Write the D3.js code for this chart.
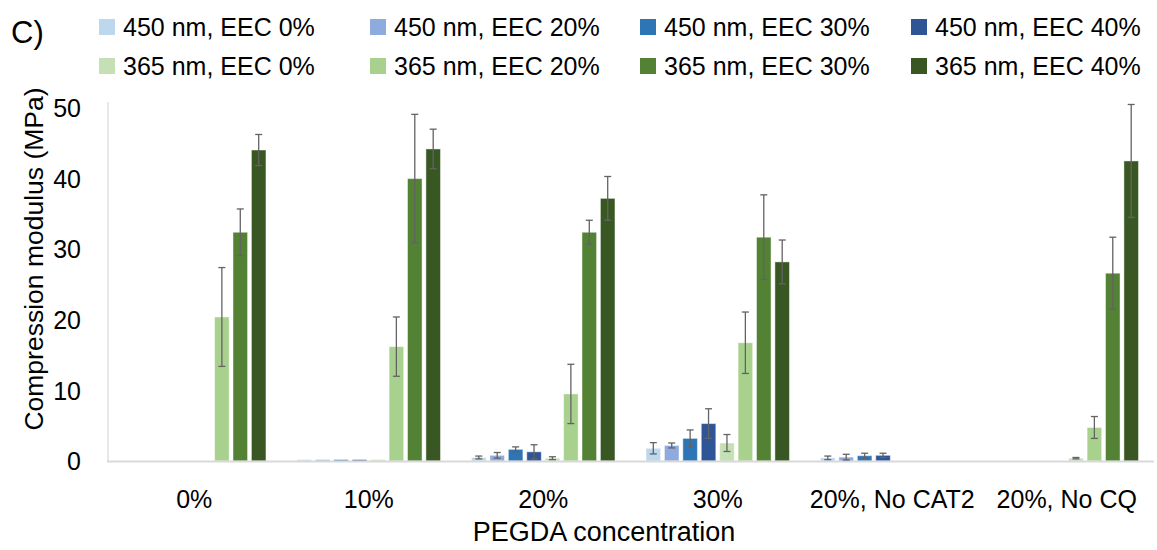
<!DOCTYPE html>
<html>
<head>
<meta charset="utf-8">
<script src="https://cdn.jsdelivr.net/npm/d3@7"></script>
<style>
  html, body { margin: 0; padding: 0; background: #fff; }
  svg { display: block; }
  text { font-family: "Liberation Sans", Arial, sans-serif; fill: #000; }
</style>
</head>
<body>
<svg id="chart" width="1157" height="550"></svg>
<script>
const categories = ["0%", "10%", "20%", "30%", "20%, No CAT2", "20%, No CQ"];
const seriesNames = ["450 nm, EEC 0%", "450 nm, EEC 20%", "450 nm, EEC 30%", "450 nm, EEC 40%",
                     "365 nm, EEC 0%", "365 nm, EEC 20%", "365 nm, EEC 30%", "365 nm, EEC 40%"];
const seriesColors = ["#BDD7EE", "#8FAADC", "#2E75B6", "#2F5597",
                      "#C5E0B4", "#A9D18E", "#548235", "#385723"];

const v450_0  = [0, 0.2, 0.5, 1.8, 0.45, 0];
const v450_20 = [0, 0.2, 0.8, 2.2, 0.55, 0];
const v450_30 = [0, 0.2, 1.65, 3.2, 0.75, 0];
const v450_40 = [0, 0.2, 1.3, 5.3, 0.8, 0];
const v365_0  = [0, 0.2, 0.4, 2.55, 0, 0.4];
const v365_20 = [20.4, 16.2, 9.5, 16.75, 0, 4.75];
const v365_30 = [32.4, 40.0, 32.4, 31.7, 0, 26.6];
const v365_40 = [44.05, 44.2, 37.2, 28.2, 0, 42.5];

const e450_0  = [0, 0, 0.2, 0.8, 0.25, 0];
const e450_20 = [0, 0, 0.4, 0.35, 0.4, 0];
const e450_30 = [0, 0, 0.35, 1.2, 0.35, 0];
const e450_40 = [0, 0, 1.0, 2.1, 0.3, 0];
const e365_0  = [0, 0, 0.2, 1.2, 0, 0.1];
const e365_20 = [7.0, 4.2, 4.2, 4.35, 0, 1.55];
const e365_30 = [3.3, 9.1, 1.7, 6.0, 0, 5.1];
const e365_40 = [2.2, 2.8, 3.1, 3.1, 0, 8.0];

const yTicks = [0, 10, 20, 30, 40, 50];

const values = [v450_0, v450_20, v450_30, v450_40, v365_0, v365_20, v365_30, v365_40];
const errors = [e450_0, e450_20, e450_30, e450_40, e365_0, e365_20, e365_30, e365_40];

const svg = d3.select("#chart");
const plotL = 107, plotR = 1154, plotT = 108, plotB = 461;

const x0 = d3.scaleBand().domain(categories).range([plotL, plotR]).padding(0);
const bw = x0.bandwidth();
const x1 = d3.scaleBand().domain(d3.range(seriesNames.length))
  .range([bw * 0.089, bw * 0.911]).paddingInner(0.21);
const y = d3.scaleLinear().domain([0, 50]).range([plotB, plotT]);

const FONT = "'Liberation Sans', Arial, sans-serif";

// y axis
const yAxis = d3.axisLeft(y).tickValues(yTicks).tickSize(0).tickPadding(0);
const gy = svg.append("g").attr("transform", `translate(81,0)`).call(yAxis);
gy.select(".domain").remove();
gy.selectAll("text").style("font-size", "25px").style("font-family", FONT)
  .attr("dy", "0.35em").attr("text-anchor", "end");

// vertical axis line
svg.append("line").attr("x1", plotL + 1).attr("x2", plotL + 1)
  .attr("y1", y(50) - 6).attr("y2", plotB).attr("stroke", "#d9d9d9").attr("stroke-width", 1.2);

// bars
const data = [];
categories.forEach((c, ci) => {
  seriesNames.forEach((s, si) => {
    data.push({ c, si, v: values[si][ci], e: errors[si][ci] });
  });
});

svg.append("g").selectAll("rect").data(data.filter(d => d.v > 0)).join("rect")
  .attr("x", d => x0(d.c) + x1(d.si))
  .attr("width", x1.bandwidth())
  .attr("y", d => y(d.v))
  .attr("height", d => y(0) - y(d.v))
  .attr("fill", d => seriesColors[d.si])
  .attr("stroke", "rgba(255,255,255,0.45)")
  .attr("stroke-width", 1);

// baseline
svg.append("line").attr("x1", plotL).attr("x2", plotR)
  .attr("y1", plotB + 0.5).attr("y2", plotB + 0.5)
  .attr("stroke", "#d9d9d9").attr("stroke-width", 2);

// error bars
const eb = svg.append("g").attr("stroke", "#636363").attr("stroke-width", 1.3).attr("fill", "none");
data.filter(d => d.e > 0).forEach(d => {
  const cx = x0(d.c) + x1(d.si) + x1.bandwidth() / 2;
  const yt = y(d.v + d.e), yb = y(Math.max(0, d.v - d.e));
  eb.append("line").attr("x1", cx).attr("x2", cx).attr("y1", yt).attr("y2", yb);
  eb.append("line").attr("x1", cx - 3.5).attr("x2", cx + 3.5).attr("y1", yt).attr("y2", yt);
  eb.append("line").attr("x1", cx - 3.5).attr("x2", cx + 3.5).attr("y1", yb).attr("y2", yb);
});

// x axis labels
const xAxis = d3.axisBottom(x0).tickSize(0).tickPadding(0);
const gx = svg.append("g").attr("transform", `translate(0,${plotB})`).call(xAxis);
gx.select(".domain").remove();
gx.selectAll("text").style("font-size", "25px").style("font-family", FONT)
  .attr("y", 38).attr("dy", "0.35em");

// axis titles
svg.append("text").attr("x", 604).attr("y", 532).attr("dy", "0.35em")
  .attr("text-anchor", "middle").style("font-size", "27px").text("PEGDA concentration");
svg.append("text").attr("transform", "translate(34,259) rotate(-90)").attr("dy", "0.35em")
  .attr("text-anchor", "middle").style("font-size", "26.5px").text("Compression modulus (MPa)");

// panel label
svg.append("text").attr("x", 11).attr("y", 32).attr("dy", "0.35em")
  .style("font-size", "31px").text("C)");

// legend
const legX = [99, 370, 640, 911];
const legY = [27, 66];
const leg = svg.append("g");
seriesNames.forEach((s, i) => {
  const col = i % 4, row = Math.floor(i / 4);
  const g = leg.append("g").attr("transform", `translate(${legX[col]},${legY[row]})`);
  g.append("rect").attr("x", 0).attr("y", -8).attr("width", 16).attr("height", 16).attr("fill", seriesColors[i]);
  g.append("text").attr("x", 24).attr("y", 0).attr("dy", "0.35em").style("font-size", "25px").text(s);
});
</script>
</body>
</html>
